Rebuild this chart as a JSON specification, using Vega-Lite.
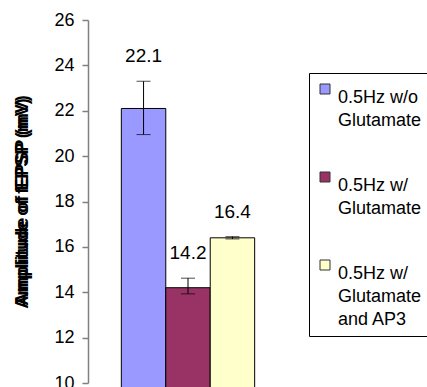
{
  "$schema": "https://vega.github.io/schema/vega-lite/v6.json",
  "autosize": {"type": "none"},
  "width": 200,
  "height": 363,
  "padding": {"left": 88, "top": 20, "right": 139, "bottom": 4},
  "background": "white",
  "config": {
    "view": {"stroke": null},
    "font": "Liberation Sans",
    "style": {"guide-label": {"lineHeight": 23}}
  },
  "data": {
    "values": [
      {"group": "0.5Hz w/o|Glutamate", "value": 22.1, "low": 20.95, "high": 23.3, "label": "22.1"},
      {"group": "0.5Hz w/|Glutamate", "value": 14.2, "low": 13.93, "high": 14.62, "label": "14.2"},
      {"group": "0.5Hz w/|Glutamate|and AP3", "value": 16.4, "low": 16.35, "high": 16.45, "label": "16.4"}
    ]
  },
  "encoding": {
    "x": {
      "field": "group",
      "type": "nominal",
      "sort": null,
      "axis": null,
      "scale": {"paddingInner": 0, "paddingOuter": 0.75}
    }
  },
  "layer": [
    {
      "mark": {"type": "bar", "stroke": "black", "strokeWidth": 1},
      "encoding": {
        "y": {
          "field": "value",
          "type": "quantitative",
          "scale": {"domain": [10, 26], "nice": false, "zero": false},
          "axis": {
            "values": [10, 12, 14, 16, 18, 20, 22, 24, 26],
            "grid": false,
            "domainColor": "#808080",
            "domainWidth": 1.5,
            "tickColor": "#808080",
            "tickSize": 6,
            "tickWidth": 1.5,
            "labelFontSize": 18,
            "labelColor": "black",
            "labelPadding": 8,
            "title": ["Amplitude of EPSP (mV)", "Amplitude of fEPSP (mV)"],
            "titleLineHeight": 0,
            "titleFontSize": 18,
            "titleFontWeight": "bold",
            "titleColor": "black",
            "titlePadding": 22
          }
        },
        "fill": {
          "field": "group",
          "type": "nominal",
          "sort": null,
          "scale": {"range": ["#9999FF", "#993366", "#FFFFCC"]},
          "legend": {
            "title": null,
            "orient": "none",
            "legendX": 221,
            "legendY": 53,
            "strokeColor": "black",
            "fillColor": "white",
            "padding": 7,
            "rowPadding": 15,
            "gridAlign": "all",
            "symbolType": "square",
            "symbolSize": 100,
            "symbolStrokeColor": "#333333",
            "symbolStrokeWidth": 1,
            "labelFontSize": 18,
            "labelOffset": 4,
            "labelColor": "black",
            "labelLimit": 300,
            "labelBaseline": "top",
            "labelExpr": "split(datum.label, '|')"
          }
        }
      }
    },
    {
      "mark": {"type": "rule", "color": "black", "strokeWidth": 1},
      "encoding": {
        "y": {"field": "low", "type": "quantitative"},
        "y2": {"field": "high"}
      }
    },
    {
      "mark": {"type": "tick", "color": "black", "thickness": 1, "size": 14},
      "encoding": {"y": {"field": "low", "type": "quantitative"}}
    },
    {
      "mark": {"type": "tick", "color": "black", "thickness": 1, "size": 14},
      "encoding": {"y": {"field": "high", "type": "quantitative"}}
    },
    {
      "mark": {"type": "text", "fontSize": 19, "color": "black", "dy": -25},
      "encoding": {
        "y": {"field": "high", "type": "quantitative"},
        "text": {"field": "label"}
      }
    }
  ]
}
